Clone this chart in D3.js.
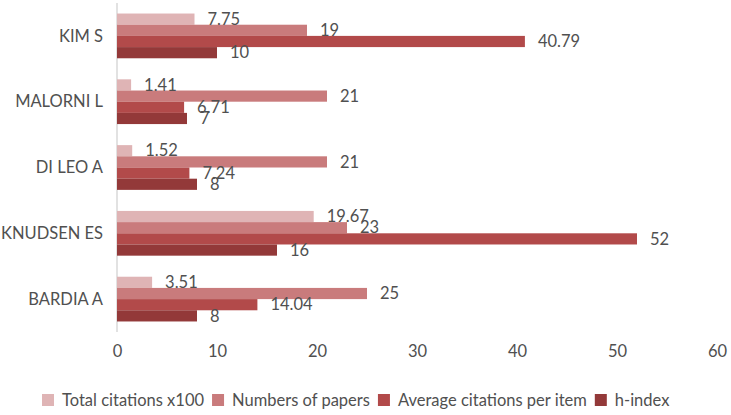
<!DOCTYPE html>
<html>
<head>
<meta charset="utf-8">
<script src="https://cdn.jsdelivr.net/npm/d3@7"></script>
<style>
  body { margin: 0; background: #fff; }
  text { font-family: Lato, "Open Sans", sans-serif; }
</style>
</head>
<body>
<div id="chart"></div>
<script>
// --- DATA (top to bottom as drawn) ---
const authors = ["KIM S", "MALORNI L", "DI LEO A", "KNUDSEN ES", "BARDIA A"];
const totalCitations = [7.75, 1.41, 1.52, 19.67, 3.51];
const numPapers = [19, 21, 21, 23, 25];
const avgCitations = [40.79, 6.71, 7.24, 52, 14.04];
const hIndex = [10, 7, 8, 16, 8];
const seriesNames = ["Total citations x100", "Numbers of papers", "Average citations per item", "h-index"];
const xTicks = [0, 10, 20, 30, 40, 50, 60];

const seriesValues = [totalCitations, numPapers, avgCitations, hIndex];
const colors = ["#dfb4b5", "#c97b7c", "#b24a4a", "#933939"];
const FS = "16.5px";

const W = 731, H = 415;
const svg = d3.select("#chart").append("svg")
    .attr("width", W).attr("height", H);

// --- SCALES ---
const x = d3.scaleLinear().domain([0, 60]).range([117, 717]);
const y = d3.scaleBand().domain(authors).range([3, 332])
    .paddingInner(0.32).paddingOuter(0.16);
const ySub = d3.scaleBand().domain(d3.range(seriesNames.length))
    .range([0, y.bandwidth()]);

const rows = [];
authors.forEach((a, i) => {
    seriesValues.forEach((vals, s) => rows.push({ author: a, s: s, v: vals[i] }));
});

// vertical axis line
svg.append("line")
    .attr("x1", x(0)).attr("x2", x(0))
    .attr("y1", 3).attr("y2", 332)
    .attr("stroke", "#d9d9d9").attr("stroke-width", 1.5);

// bars
svg.append("g").selectAll("rect")
    .data(rows)
    .join("rect")
    .attr("x", x(0))
    .attr("y", d => y(d.author) + ySub(d.s))
    .attr("width", d => x(d.v) - x(0))
    .attr("height", ySub.bandwidth())
    .attr("fill", d => colors[d.s]);

// value labels
svg.append("g").selectAll("text")
    .data(rows)
    .join("text")
    .attr("x", d => x(d.v) + 13)
    .attr("y", d => y(d.author) + ySub(d.s) + ySub.bandwidth() / 2)
    .attr("dy", "0.35em")
    .attr("font-size", FS)
    .attr("fill", "#505050")
    .text(d => d.v);

// category labels
svg.append("g").selectAll("text")
    .data(authors)
    .join("text")
    .attr("x", 103)
    .attr("y", d => y(d) + y.bandwidth() / 2)
    .attr("dy", "0.35em")
    .attr("text-anchor", "end")
    .attr("font-size", FS)
    .attr("fill", "#505050")
    .text(d => d);

// x axis tick labels
const xAxis = svg.append("g")
    .attr("transform", "translate(0,345)")
    .call(d3.axisBottom(x).tickValues(xTicks).tickSize(0).tickPadding(0));
xAxis.select(".domain").remove();
xAxis.selectAll("text")
    .attr("font-size", FS)
    .attr("fill", "#505050")
    .attr("dy", "0.71em");

// legend
const legend = svg.append("g").attr("transform", "translate(0,400)");
let lx = 42;
seriesNames.forEach((name, i) => {
    legend.append("rect")
        .attr("x", lx).attr("y", -6)
        .attr("width", 12).attr("height", 12)
        .attr("fill", colors[i]);
    const t = legend.append("text")
        .attr("x", lx + 20).attr("y", 0)
        .attr("dy", "0.35em")
        .attr("font-size", FS)
        .attr("fill", "#505050")
        .text(name);
    lx += 20 + t.node().getComputedTextLength() + 8;
});
</script>
</body>
</html>
